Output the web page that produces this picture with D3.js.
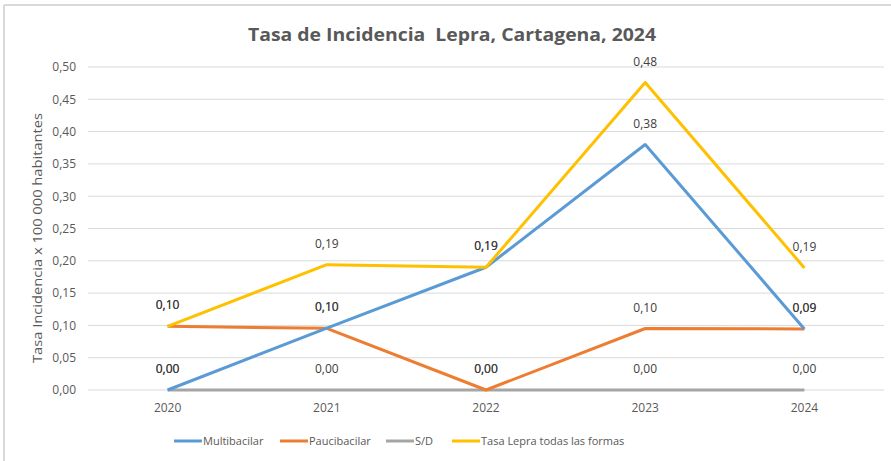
<!DOCTYPE html>
<html><head><meta charset="utf-8">
<script src="https://cdn.jsdelivr.net/npm/d3@7/dist/d3.min.js"></script>
<style>html,body{margin:0;padding:0;background:#fff;}svg{display:block;}</style>
</head><body>
<script>
const years = ["2020","2021","2022","2023","2024"];
const multibacilar = [0.000, 0.0958, 0.190, 0.380, 0.0945];
const paucibacilar = [0.0985, 0.0955, 0.000, 0.0952, 0.0945];
const sd = [0, 0, 0, 0, 0];
const total = [0.0985, 0.194, 0.190, 0.476, 0.189];
const seriesNames = ["Multibacilar","Paucibacilar","S/D","Tasa Lepra todas las formas"];
const seriesColors = ["#5B9BD5","#ED7D31","#A5A5A5","#FFC000"];
const yTicks = [0,0.05,0.10,0.15,0.20,0.25,0.30,0.35,0.40,0.45,0.50];
const title = "Tasa de Incidencia  Lepra, Cartagena, 2024";
const yTitle = "Tasa Incidencia x 100 000 habitantes";

(function(){
const W = 891, H = 461;
const svg = d3.select("body").append("svg").attr("width", W).attr("height", H);
const font = "'Open Sans', Calibri, sans-serif";
const txt = "#595959";

// frame
svg.append("line").attr("x1",4).attr("x2",W).attr("y1",5).attr("y2",5).attr("stroke","#D9D9D9").attr("stroke-width",2);
svg.append("line").attr("x1",4).attr("x2",4).attr("y1",5).attr("y2",H).attr("stroke","#D9D9D9").attr("stroke-width",2);

const pLeft = 88, pRight = 884, pTop = 67, pBottom = 390;
const x = d3.scaleBand().domain(years).range([pLeft, pRight]);
const y = d3.scaleLinear().domain([0, 0.5]).range([pBottom, pTop]);
const fmt = v => d3.format(".2f")(v).replace(".", ",");

// grid
svg.append("g").selectAll("line").data(yTicks).join("line")
  .attr("x1", pLeft).attr("x2", pRight)
  .attr("y1", d => y(d)).attr("y2", d => y(d))
  .attr("stroke", "#D9D9D9").attr("stroke-width", 1);

// y axis
const ya = svg.append("g").attr("transform", `translate(${pLeft},0)`)
  .call(d3.axisLeft(y).tickValues(yTicks).tickSize(0).tickPadding(12).tickFormat(fmt));
ya.select(".domain").remove();
ya.selectAll("text").attr("fill", txt).style("font-family", font).style("font-size", "12px");

// x axis
const xa = svg.append("g").attr("transform", `translate(0,${pBottom})`)
  .call(d3.axisBottom(x).tickSize(0).tickPadding(13));
xa.select(".domain").remove();
xa.selectAll("text").attr("fill", txt).style("font-family", font).style("font-size", "12px");

// title
svg.append("text").attr("x", 452).attr("y", 41).attr("text-anchor", "middle")
  .attr("fill", txt).style("font-family", font).style("font-size", "18px").style("font-weight", "bold")
  .style("white-space", "pre")
  .attr("textLength", 408).attr("lengthAdjust", "spacingAndGlyphs")
  .text(title);

// y title
svg.append("text").attr("transform", `translate(42,238) rotate(-90)`)
  .attr("text-anchor", "middle").attr("fill", txt)
  .style("font-family", font).style("font-size", "13px")
  .attr("textLength", 250).attr("lengthAdjust", "spacingAndGlyphs")
  .text(yTitle);

const allSeries = [multibacilar, paucibacilar, sd, total];
const cx = d => x(d) + x.bandwidth()/2;
const line = d3.line().x((d,i) => cx(years[i])).y(d => y(d));

[2,1,0,3].forEach(si => {
  svg.append("path").datum(allSeries[si]).attr("d", line)
    .attr("fill", "none").attr("stroke", seriesColors[si]).attr("stroke-width", 3)
    .attr("stroke-linejoin", "round");
});

// labels
allSeries.forEach((vals, si) => {
  svg.append("g").selectAll("text").data(vals).join("text")
    .attr("x", (d,i) => cx(years[i])).attr("y", d => y(d) - 17)
    .attr("text-anchor", "middle").attr("fill", "#404040")
    .style("font-family", font).style("font-size", "12px")
    .text(d => fmt(d));
});

// legend
const legendX = [174, 280, 386, 452];
const lg = svg.append("g");
seriesNames.forEach((n, i) => {
  lg.append("line").attr("x1", legendX[i]).attr("x2", legendX[i] + 28)
    .attr("y1", 441).attr("y2", 441).attr("stroke", seriesColors[i]).attr("stroke-width", 3);
  lg.append("text").attr("x", legendX[i] + 29).attr("y", 445)
    .attr("fill", txt).style("font-family", font).style("font-size", "11px")
    .text(n);
});
})();
</script>
</body></html>
